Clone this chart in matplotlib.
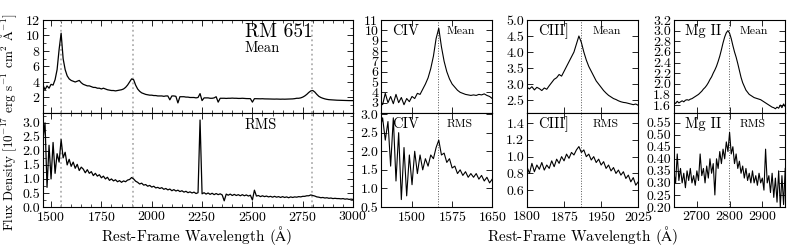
import numpy as np
import matplotlib
matplotlib.use("Agg")
import matplotlib.pyplot as plt
from matplotlib.ticker import MultipleLocator

plt.rcParams['font.family'] = 'serif'
plt.rcParams['font.serif'] = ['cmr10']
plt.rcParams['mathtext.fontset'] = 'cm'
plt.rcParams['axes.formatter.use_mathtext'] = True

# full spectrum, 10 A grid from 1440 to 3000
wave_full = np.arange(1440, 3001, 10)
mean_full = [
    3.3, 2.9, 3.6, 3.0, 3.5, 3.2, 3.7, 3.6, 4.3, 5.6,
    8.2, 10.3, 7.0, 5.6, 4.8, 4.4, 4.2, 4.1, 4.0, 4.1,
    4.2, 3.9, 3.7, 3.6, 3.5, 3.5, 3.4, 3.3, 3.3, 3.2,
    3.2, 3.1, 3.2, 3.1, 3.0, 2.95, 2.9, 2.9, 2.85, 2.9,
    2.95, 3.0, 3.1, 3.3, 3.6, 4.0, 4.4, 4.3, 3.6, 3.1,
    2.8, 2.6, 2.5, 2.4, 2.35, 2.3, 2.3, 2.25, 2.25, 2.2,
    2.2, 2.2, 2.15, 2.2, 2.2, 1.7, 2.2, 2.2, 2.15, 1.3,
    2.1, 2.1, 2.1, 2.05, 2.05, 2.0, 2.0, 2.0, 1.95, 2.0,
    2.5, 1.6, 1.95, 1.95, 1.95, 1.9, 1.9, 1.95, 2.1, 1.4,
    1.9, 1.9, 1.9, 1.88, 1.9, 1.9, 1.92, 1.9, 1.9, 1.88,
    1.88, 1.9, 1.88, 1.86, 1.86, 1.85, 1.4, 1.85, 1.84, 1.84,
    1.83, 1.84, 1.82, 1.82, 1.81, 1.8, 1.8, 1.79, 1.8, 1.79,
    1.78, 1.79, 1.78, 1.79, 1.8, 1.8, 1.82, 1.85, 1.9, 1.9,
    1.95, 2.05, 2.2, 2.4, 2.65, 2.85, 2.9, 2.7, 2.4, 2.15,
    2.0, 1.9, 1.82, 1.76, 1.72, 1.7, 1.68, 1.66, 1.65, 1.64,
    1.63, 1.62, 1.62, 1.61, 1.6, 1.6, 1.6,
]
rms_full = [
    3.0, 3.1, 2.4, 3.0, 0.7, 2.2, 1.0, 2.3, 1.2, 1.9,
    1.6, 2.4, 1.75, 1.95, 1.5, 1.7, 1.45, 1.6, 1.38, 1.52,
    1.3, 1.42, 1.35, 1.22, 1.33, 1.2, 1.26, 1.12, 1.2, 1.1,
    1.15, 1.04, 1.1, 1.0, 1.06, 0.95, 1.0, 0.93, 0.97, 0.9,
    0.94, 0.88, 0.93, 0.9, 0.96, 0.98, 1.05, 1.0, 0.92, 0.88,
    0.82, 0.85, 0.78, 0.8, 0.74, 0.77, 0.71, 0.74, 0.68, 0.7,
    0.66, 0.69, 0.63, 0.66, 0.61, 0.64, 0.58, 0.62, 0.57, 0.6,
    0.55, 0.58, 0.53, 0.56, 0.51, 0.54, 0.5, 0.53, 0.48, 0.51,
    3.1, 0.47, 0.51, 0.46, 0.5, 0.45, 0.49, 0.44, 0.48, 0.44,
    0.47, 0.43, 0.22, 0.46, 0.42, 0.46, 0.41, 0.45, 0.41, 0.44,
    0.4, 0.44, 0.4, 0.43, 0.39, 0.42, 0.25, 0.6, 0.39, 0.41,
    0.37, 0.4, 0.37, 0.39, 0.36, 0.38, 0.35, 0.38, 0.35, 0.37,
    0.34, 0.37, 0.34, 0.36, 0.33, 0.36, 0.34, 0.36, 0.35, 0.37,
    0.36, 0.38, 0.38, 0.4, 0.4, 0.43, 0.41, 0.39, 0.36, 0.35,
    0.33, 0.34, 0.32, 0.33, 0.31, 0.32, 0.3, 0.31, 0.3, 0.3,
    0.29, 0.3, 0.28, 0.29, 0.27, 0.28, 0.27,
]

# C IV window, 5 A grid
civ_wave = np.arange(1440, 1651, 5)
civ_mean = [
    3.3, 2.8, 3.9, 3.0, 3.6, 2.9, 3.8, 3.0, 3.5, 2.8,
    3.4, 3.1, 3.6, 3.4, 3.9, 3.8, 4.3, 4.8, 5.4, 6.3,
    7.5, 9.2, 10.2, 8.4, 7.0, 6.0, 5.3, 4.8, 4.5, 4.2,
    4.0, 3.9, 3.8, 3.75, 3.7, 3.75, 3.7, 3.8, 3.75, 3.85,
    3.7, 3.6, 3.4,
]
civ_rms = [
    2.6, 2.9, 2.3, 2.8, 1.6, 2.9, 1.2, 2.5, 0.7, 2.1,
    0.8, 1.9, 1.1, 2.0, 1.4, 1.9, 1.5, 1.8, 1.6, 1.9,
    1.8, 2.1, 2.3, 1.9, 1.95, 1.7, 1.8, 1.55, 1.6, 1.4,
    1.5, 1.35, 1.45, 1.3, 1.4, 1.3, 1.4, 1.25, 1.35, 1.2,
    1.3, 1.15, 1.25,
]

# C III] window, 5 A grid
ciii_wave = np.arange(1800, 2026, 5)
ciii_mean = [
    2.9, 2.85, 2.92, 2.82, 2.9, 2.86, 2.8, 2.88, 2.84, 2.95,
    3.05, 3.15, 3.2, 3.3, 3.25, 3.4, 3.55, 3.7, 3.85, 4.0,
    4.25, 4.5, 4.3, 4.0, 3.75, 3.55, 3.4, 3.25, 3.1, 3.0,
    2.9, 2.8, 2.72, 2.65, 2.6, 2.55, 2.52, 2.48, 2.45, 2.43,
    2.42, 2.4, 2.38, 2.36, 2.38, 2.34,
]
ciii_rms = [
    0.88, 0.8, 0.92, 0.82, 0.9, 0.85, 0.93, 0.84, 0.9, 0.86,
    0.95, 0.88, 0.97, 0.92, 1.0, 0.95, 1.03, 0.98, 1.05, 1.02,
    1.08, 1.12, 1.05, 1.08, 1.0, 1.03, 0.96, 1.0, 0.93, 0.97,
    0.9, 0.94, 0.86, 0.9, 0.83, 0.87, 0.8, 0.84, 0.78, 0.82,
    0.74, 0.78, 0.7, 0.75, 0.66, 0.7,
]

# Mg II window, 5 A grid
mgii_wave = np.arange(2630, 2971, 5)
mgii_mean = [
    1.65, 1.63, 1.67, 1.64, 1.66, 1.68, 1.66, 1.69, 1.7, 1.69,
    1.71, 1.72, 1.74, 1.76, 1.78, 1.8, 1.83, 1.86, 1.9, 1.93,
    1.97, 2.02, 2.08, 2.13, 2.2, 2.26, 2.33, 2.42, 2.52, 2.64,
    2.77, 2.88, 2.96, 3.0, 2.95, 2.85, 2.72, 2.6, 2.5, 2.38,
    2.25, 2.12, 2.02, 1.95, 1.88, 1.84, 1.8, 1.78, 1.76, 1.74,
    1.73, 1.72, 1.71, 1.7, 1.68, 1.66, 1.64, 1.62, 1.6, 1.58,
    1.56, 1.55, 1.53, 1.56, 1.54, 1.6, 1.55, 1.62, 1.57,
]
mgii_rms = [
    0.34, 0.3, 0.42, 0.31, 0.36, 0.3, 0.34, 0.28, 0.35, 0.31,
    0.36, 0.3, 0.33, 0.29, 0.35, 0.31, 0.42, 0.33, 0.36, 0.3,
    0.37, 0.32, 0.4, 0.34, 0.38, 0.25, 0.4, 0.36, 0.43, 0.38,
    0.44, 0.4, 0.47, 0.43, 0.51, 0.42, 0.45, 0.38, 0.42, 0.36,
    0.39, 0.34, 0.37, 0.32, 0.36, 0.31, 0.34, 0.3, 0.35, 0.3,
    0.33, 0.29, 0.34, 0.3, 0.32, 0.27, 0.44, 0.3, 0.33, 0.26,
    0.34, 0.24, 0.32, 0.22, 0.35, 0.2, 0.33, 0.21, 0.36,
]

line_centers = [1549, 1909, 2798]

fig = plt.figure(figsize=(7.89, 2.45), dpi=100)


def style(ax):
    ax.tick_params(which='both', direction='in', top=True, right=True, labelsize=10, pad=2)
    ax.tick_params(which='major', length=4, width=0.6)
    ax.tick_params(which='minor', length=2, width=0.5)
    for s in ax.spines.values():
        s.set_linewidth(0.8)


# left: full spectrum
ax1 = fig.add_axes([0.0545, 0.5388, 0.393, 0.3796])
ax2 = fig.add_axes([0.0545, 0.1551, 0.393, 0.3837])
for ax, flux in [(ax1, mean_full), (ax2, rms_full)]:
    for lc in line_centers:
        ax.axvline(lc, color='#b0b0b0', ls=':', lw=1.3)
    ax.plot(wave_full, flux, color='k', lw=0.9)
    ax.set_xlim(1460, 3000)
    ax.xaxis.set_major_locator(MultipleLocator(250))
    ax.xaxis.set_minor_locator(MultipleLocator(50))
    style(ax)
ax1.set_ylim(0, 12)
ax1.set_yticks([2, 4, 6, 8, 10, 12])
ax1.yaxis.set_minor_locator(MultipleLocator(1))
ax1.set_xticklabels([])
ax2.set_ylim(0, 3.35)
ax2.set_yticks([0, 0.5, 1.0, 1.5, 2.0, 2.5, 3.0])
ax2.yaxis.set_minor_locator(MultipleLocator(0.25))
ax2.yaxis.set_major_formatter(plt.FormatStrFormatter('%.1f'))
ax1.text(0.65, 0.87, 'RM 651', transform=ax1.transAxes, fontsize=14, va='center')
ax1.text(0.65, 0.7, 'Mean', transform=ax1.transAxes, fontsize=10.5, va='center')
ax2.text(0.65, 0.87, 'RMS', transform=ax2.transAxes, fontsize=10.5, va='center')

# zoomed windows
panels = [
    (0.4829, civ_wave, civ_mean, civ_rms, 'CIV', 1549, (1442, 1650), [1500, 1575, 1650],
     (2, 11), list(range(3, 12)), '%d', (0.5, 3.03), [0.5, 1.0, 1.5, 2.0, 2.5, 3.0], '%.1f'),
    (0.6679, ciii_wave, ciii_mean, ciii_rms, 'CIII]', 1909, (1800, 2025), [1800, 1875, 1950, 2025],
     (2.1, 5.0), [2.5, 3.0, 3.5, 4.0, 4.5, 5.0], '%.1f', (0.4, 1.52), [0.6, 0.8, 1.0, 1.2, 1.4], '%.1f'),
    (0.8542, mgii_wave, mgii_mean, mgii_rms, 'Mg II', 2798, (2630, 2970), [2700, 2800, 2900],
     (1.45, 3.2), [1.6, 1.8, 2.0, 2.2, 2.4, 2.6, 2.8, 3.0, 3.2], '%.1f', (0.2, 0.59),
     [0.2, 0.25, 0.3, 0.35, 0.4, 0.45, 0.5, 0.55], '%.2f'),
]
for (left, w, m, r, name, lc, xl, xt, yl_m, yt_m, fm_m, yl_r, yt_r, fm_r) in panels:
    axm = fig.add_axes([left, 0.5388, 0.141, 0.3796])
    axr = fig.add_axes([left, 0.1551, 0.141, 0.3837])
    for ax, flux, lab, yl, yt, fm in [(axm, m, 'Mean', yl_m, yt_m, fm_m), (axr, r, 'RMS', yl_r, yt_r, fm_r)]:
        ax.axvline(lc, color='#555555', ls=':', lw=0.7)
        ax.plot(w, flux, color='k', lw=0.8)
        ax.set_xlim(*xl)
        ax.set_xticks(xt)
        ax.set_ylim(*yl)
        ax.set_yticks(yt)
        ax.yaxis.set_major_formatter(plt.FormatStrFormatter(fm))
        style(ax)
        ax.text(0.1, 0.88, name, transform=ax.transAxes, fontsize=10.5, va='center')
        ax.text(0.59, 0.88, lab, transform=ax.transAxes, fontsize=8.5, va='center')
    axm.set_xticklabels([])

fig.text(197 / 789, 1 - 235 / 245, r'Rest-Frame Wavelength ($\mathrm{\AA}$)', ha='center', va='center', fontsize=11)
fig.text(583 / 789, 1 - 235 / 245, r'Rest-Frame Wavelength ($\mathrm{\AA}$)', ha='center', va='center', fontsize=11)
fig.text(9 / 789, 0.5, r'Flux Density [10$^{-17}$ erg s$^{-1}$ cm$^{2}$ $\mathrm{\AA}^{-1}$]',
         rotation=90, ha='center', va='center', fontsize=9.5)

fig.savefig('out.png', dpi=100)
